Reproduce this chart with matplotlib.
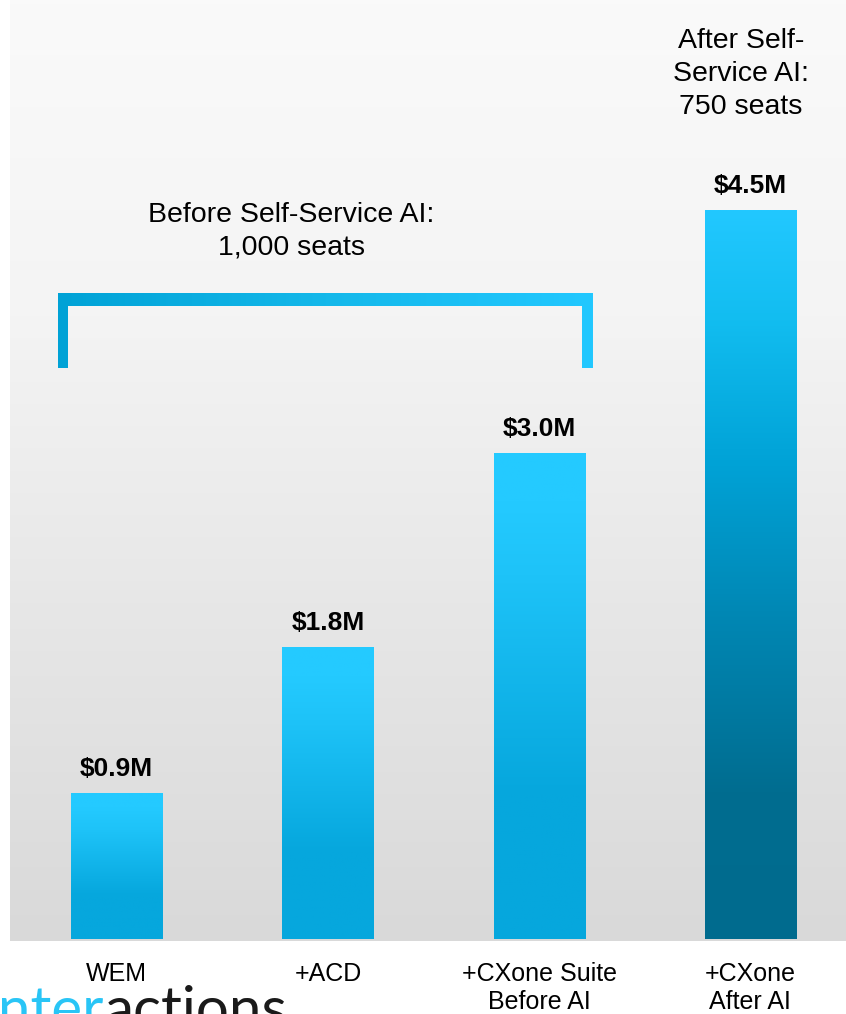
import numpy as np
import matplotlib
matplotlib.use("Agg")
import matplotlib.pyplot as plt
from matplotlib.colors import LinearSegmentedColormap
from matplotlib.path import Path
from matplotlib.patches import PathPatch

# data
categories = ["WEM", "+ACD", "+CXone Suite\nBefore AI", "+CXone\nAfter AI"]
values = [0.9, 1.8, 3.0, 4.5]
value_labels = ["$0.9M", "$1.8M", "$3.0M", "$4.5M"]
before_note = "Before Self-Service AI:\n1,000 seats"
after_note = "After Self-\nService AI:\n750 seats"

plt.rcParams['font.family'] = ['Liberation Sans', 'DejaVu Sans']

W, H = 846, 1014
fig = plt.figure(figsize=(W / 100, H / 100), dpi=100)
fig.patch.set_facecolor('white')

# axes = grey panel; 162 px per $1M, bars sit at 939 px
px_per_m = 162.0
bar_base = 939
panel_bottom = 941
ax = fig.add_axes([10 / W, (H - panel_bottom) / H, (W - 10) / W, panel_bottom / H])
x = np.arange(len(values))
spacing = 211.0
ax.set_xlim(-(116.5 - 10) / spacing, 3 + (846 - 750.5) / spacing)
ax.set_ylim(-(panel_bottom - bar_base) / px_per_m, bar_base / px_per_m)
ax.axis('off')

# panel gradient
bg = LinearSegmentedColormap.from_list('bg', ['#d9d9d9', '#e6e6e6', '#f4f4f4', '#fafafa'])
xl, yl = ax.get_xlim(), ax.get_ylim()
ax.imshow(np.linspace(0, 1, 256).reshape(-1, 1), cmap=bg, origin='lower',
          extent=(xl[0], xl[1], yl[0], yl[1]), aspect='auto', zorder=0)

light = LinearSegmentedColormap.from_list(
    'light', [(0.0, '#06a7dd'), (0.3, '#06a7dd'), (0.75, '#1ec3f8'), (0.9, '#24caff'), (1.0, '#24caff')])
dark = LinearSegmentedColormap.from_list(
    'dark', [(0.0, '#006b8e'), (0.2, '#006d90'), (0.45, '#0088b5'), (0.65, '#00a2d6'),
             (0.85, '#12bdf0'), (1.0, '#22c8ff')])

bars = ax.bar(x, values, width=91 / spacing, color='none', zorder=2)
grad = np.linspace(0, 1, 256).reshape(-1, 1)
for i, b in enumerate(bars):
    cm = dark if i == len(bars) - 1 else light
    x0, w, h = b.get_x(), b.get_width(), b.get_height()
    ax.imshow(grad, cmap=cm, origin='lower', extent=(x0, x0 + w, 0, h),
              aspect='auto', zorder=2)
    ax.annotate(value_labels[i], (x0 + w / 2, h), xytext=(0, 9), textcoords='offset points',
                ha='center', va='bottom', fontsize=19, fontweight='bold', color='black')
ax.set_xlim(xl)
ax.set_ylim(yl)

# category labels under the panel
for xi, lab in zip(x, categories):
    ax.text(xi, -(962 - bar_base) / px_per_m, lab, ha='center', va='top', fontsize=18,
            linespacing=1.2, color='black', clip_on=False)

# bracket over the first three bars
def to_data(px, py):
    return ((px - 116.5) / spacing, (bar_base - py) / px_per_m)

pts = [to_data(58, 368), to_data(58, 293), to_data(592, 293), to_data(592, 368),
       to_data(581, 368), to_data(581, 306), to_data(68, 306), to_data(68, 368), to_data(58, 368)]
codes = [Path.MOVETO] + [Path.LINETO] * (len(pts) - 2) + [Path.CLOSEPOLY]
bracket = PathPatch(Path(pts, codes), facecolor='none', edgecolor='none')
ax.add_patch(bracket)
brk = LinearSegmentedColormap.from_list('brk', ['#00a2d6', '#14b8ea', '#22c8ff'])
bx0, by0 = to_data(58, 368)
bx1, by1 = to_data(592, 293)
im = ax.imshow(np.linspace(0, 1, 256).reshape(1, -1), cmap=brk, origin='lower',
               extent=(bx0, bx1, by0, by1), aspect='auto', zorder=3)
im.set_clip_path(bracket)
ax.set_xlim(xl)
ax.set_ylim(yl)

tx, ty = to_data(291, 231)
ax.text(tx, ty, before_note, ha='center', va='center', fontsize=20.5, linespacing=1.3)
tx, ty = to_data(740, 74)
ax.text(tx, ty, after_note, ha='center', va='center', fontsize=20.5, linespacing=1.35)

# logo, cut off at the bottom left
fig.text(104 / W, (H - 1028) / H, "inter", ha='right', va='baseline', fontsize=42,
         family=['Lato', 'DejaVu Sans'], color='#29c5f6')
fig.text(104 / W, (H - 1028) / H, "actions", ha='left', va='baseline', fontsize=42,
         family=['Lato', 'DejaVu Sans'], color='#1a1a1a')

fig.savefig("out.png", dpi=100, facecolor='white')
